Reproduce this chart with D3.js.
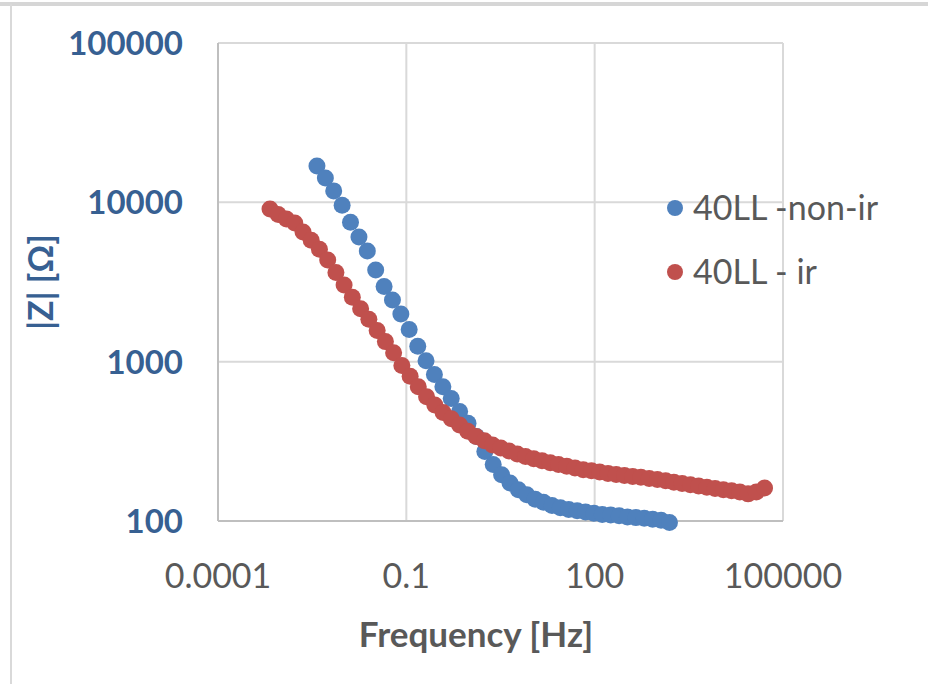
<!DOCTYPE html>
<html lang="en">
<head>
<meta charset="utf-8">
<script src="https://cdn.jsdelivr.net/npm/d3@7"></script>
<style>
  body { margin: 0; background: #fff; }
  svg { display: block; }
</style>
</head>
<body>
<div id="chart"></div>
<script>
// --- data ---
var xTicks = [0.0001, 0.1, 100, 100000];
var xTickLabels = ["0.0001", "0.1", "100", "100000"];
var yTicks = [100, 1000, 10000, 100000];
var yTickLabels = ["100", "1000", "10000", "100000"];

var seriesNames = ["40LL -non-ir", "40LL - ir"];

var freqNonIr = [0.00377, 0.00513, 0.00697, 0.00949, 0.0129, 0.0176, 0.0239, 0.0325, 0.0442, 0.0601,
  0.0818, 0.111, 0.152, 0.206, 0.280, 0.382, 0.519, 0.706, 0.961, 1.31,
  1.78, 2.42, 3.29, 4.48, 6.09, 8.29, 11.3, 15.3, 20.9, 28.4,
  38.6, 52.6, 71.5, 97.3, 132, 180, 245, 333, 454, 617,
  839, 1142, 1554];
var zNonIr = [16900, 14200, 11800, 9600, 7500, 6050, 4950, 3760, 2960, 2440,
  1990, 1590, 1250, 1015, 830, 697, 588, 487, 410, 339,
  273, 226, 195, 173, 157, 146, 137, 131, 125, 121,
  118, 116, 114, 112, 110, 109, 108, 106, 105, 104,
  102.5, 101, 98];

var freqIr = [0.000673, 0.000911, 0.00123, 0.00167, 0.00226, 0.00305, 0.00413, 0.00559, 0.00756, 0.0102,
  0.0138, 0.0187, 0.0253, 0.0343, 0.0464, 0.0627, 0.0849, 0.115, 0.155, 0.210,
  0.284, 0.385, 0.521, 0.704, 0.953, 1.29, 1.75, 2.36, 3.19, 4.32,
  5.85, 7.91, 10.7, 14.5, 19.6, 26.5, 35.9, 48.6, 65.7, 88.9,
  120, 163, 220, 298, 403, 545, 738, 998, 1350, 1827,
  2472, 3345, 4525, 6123, 8284, 11207, 15163, 20517, 27760, 37560,
  50816];
var zIr = [9080, 8390, 7850, 7430, 6510, 5780, 5080, 4340, 3630, 3030,
  2535, 2145, 1845, 1570, 1336, 1137, 945, 809, 697, 603,
  535, 480, 438, 400, 366, 339, 319, 300, 287, 275,
  263, 254, 246, 239, 232, 226, 221, 215, 210, 207,
  203, 199, 196, 193, 190.5, 188, 185, 182, 179, 175,
  172, 169, 166, 163, 160, 157, 155, 152, 148, 152,
  161];

var colors = ["#4f81bd", "#c0504d"];

// --- drawing ---
var width = 928, height = 684;
var plot = { left: 218, right: 783, top: 43, bottom: 521 };
var font = "Lato, 'Open Sans', sans-serif";

var svg = d3.select("#chart").append("svg")
  .attr("width", width)
  .attr("height", height);

// outer frame of the screenshot
svg.append("rect").attr("x", 0).attr("y", 2).attr("width", width).attr("height", 4).attr("fill", "#d6d6d6");
svg.append("rect").attr("x", 10).attr("y", 4).attr("width", 2).attr("height", height).attr("fill", "#d9d9d9");

var x = d3.scaleLog().domain([0.0001, 100000]).range([plot.left, plot.right]);
var y = d3.scaleLog().domain([100, 100000]).range([plot.bottom, plot.top]);

// grid
svg.append("g")
  .selectAll("line")
  .data(xTicks)
  .enter().append("line")
  .attr("x1", function(d) { return x(d); })
  .attr("x2", function(d) { return x(d); })
  .attr("y1", plot.top)
  .attr("y2", plot.bottom)
  .attr("stroke", "#d9d9d9")
  .attr("stroke-width", 2);

svg.append("g")
  .selectAll("line")
  .data(yTicks)
  .enter().append("line")
  .attr("x1", plot.left)
  .attr("x2", plot.right)
  .attr("y1", function(d) { return y(d); })
  .attr("y2", function(d) { return y(d); })
  .attr("stroke", "#d9d9d9")
  .attr("stroke-width", 2);

// axes lines (left & bottom slightly darker)
svg.append("line").attr("x1", plot.left).attr("x2", plot.left)
  .attr("y1", plot.top).attr("y2", plot.bottom)
  .attr("stroke", "#bfbfbf").attr("stroke-width", 2);
svg.append("line").attr("x1", plot.left).attr("x2", plot.right)
  .attr("y1", plot.bottom).attr("y2", plot.bottom)
  .attr("stroke", "#bfbfbf").attr("stroke-width", 2);

// tick labels
svg.append("g")
  .selectAll("text")
  .data(xTicks)
  .enter().append("text")
  .attr("x", function(d) { return x(d); })
  .attr("y", 588)
  .attr("text-anchor", "middle")
  .attr("font-family", font)
  .attr("font-size", 34)
  .attr("fill", "#595959")
  .text(function(d, i) { return xTickLabels[i]; });

svg.append("g")
  .selectAll("text")
  .data(yTicks)
  .enter().append("text")
  .attr("x", 183)
  .attr("y", function(d) { return y(d); })
  .attr("dy", "0.36em")
  .attr("text-anchor", "end")
  .attr("font-family", font)
  .attr("font-weight", "bold")
  .attr("font-size", 33)
  .attr("fill", "#376092")
  .text(function(d, i) { return yTickLabels[i]; });

// axis titles
svg.append("text")
  .attr("x", 476)
  .attr("y", 647)
  .attr("text-anchor", "middle")
  .attr("font-family", font)
  .attr("font-weight", "bold")
  .attr("font-size", 35)
  .attr("fill", "#595959")
  .text("Frequency [Hz]");

svg.append("text")
  .attr("transform", "translate(53,282) rotate(-90)")
  .attr("text-anchor", "middle")
  .attr("font-family", font)
  .attr("font-weight", "bold")
  .attr("font-size", 34)
  .attr("fill", "#376092")
  .text("|Z| [Ω]");

// series
var series = [
  { name: seriesNames[0], f: freqNonIr, z: zNonIr, color: colors[0] },
  { name: seriesNames[1], f: freqIr, z: zIr, color: colors[1] }
];

series.forEach(function(s) {
  svg.append("g")
    .selectAll("circle")
    .data(s.f)
    .enter().append("circle")
    .attr("cx", function(d) { return x(d); })
    .attr("cy", function(d, i) { return y(s.z[i]); })
    .attr("r", 8.5)
    .attr("fill", s.color);
});

// legend
var legend = svg.append("g");
series.forEach(function(s, i) {
  var ly = 208 + i * 64;
  legend.append("circle")
    .attr("cx", 675).attr("cy", ly).attr("r", 8)
    .attr("fill", s.color);
  legend.append("text")
    .attr("x", 693).attr("y", ly)
    .attr("dy", "0.36em")
    .attr("font-family", font)
    .attr("font-size", 34)
    .attr("fill", "#595959")
    .text(s.name);
});
</script>
</body>
</html>
